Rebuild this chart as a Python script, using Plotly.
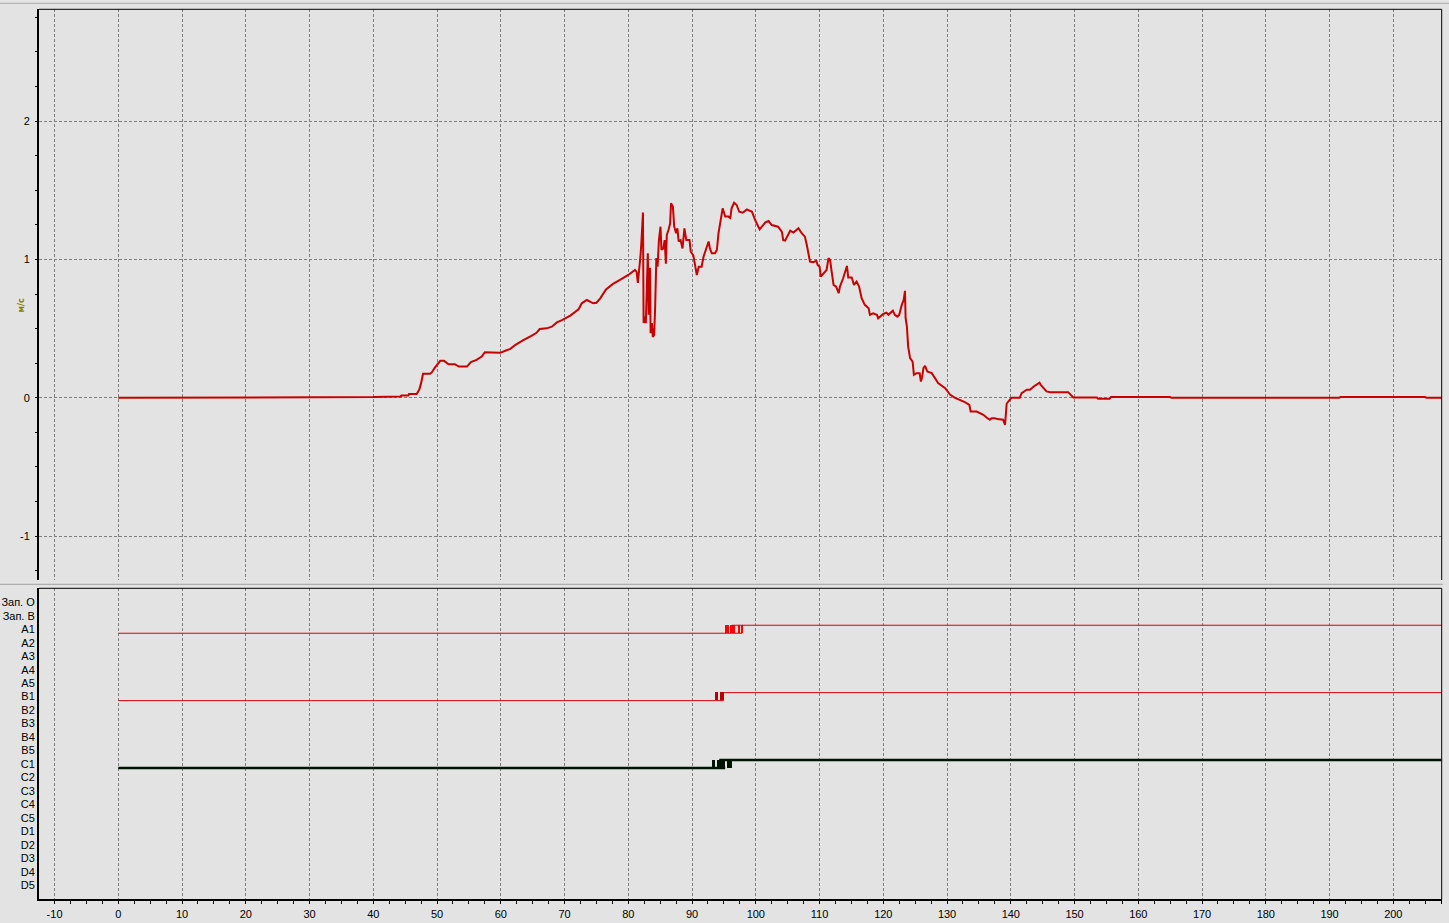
import plotly.graph_objects as go

# ---------------- data ----------------
t_vals = [0, 21.5, 21.8, 40, 44.3, 44.4, 45.5, 45.6, 46.8, 47.2, 47.5, 47.8, 48.9, 49.2, 49.6, 50.0,
          50.5, 51.1, 51.8, 52.8, 53.4, 54.7, 55.3, 56.2, 57.0, 57.5, 58.9, 59.1, 59.9, 60.8, 61.5,
          62.3, 63.0, 63.6, 64.8, 65.6, 66.1, 67.2, 68.0, 68.8, 69.6, 70.9, 72.2, 72.7, 73.5, 74.5,
          75.0, 75.6, 76.5, 77.6, 78.7, 80.0, 81.05,
          81.3, 81.5, 81.7, 81.9, 82.05, 82.3, 82.4, 82.5, 82.75, 82.9, 83.06, 83.2, 83.4, 83.5,
          83.7, 83.85, 84.05, 84.2, 84.4, 84.6, 84.8, 85.05, 85.2, 85.5, 85.7, 85.9, 86.04, 86.3,
          86.56, 86.7, 87.0, 87.2, 87.5, 87.7, 87.9, 88.2, 88.5, 88.8, 89.1, 89.6, 89.8, 90.2, 90.5,
          90.75, 91.05, 91.5, 91.8, 92.2, 92.6, 92.8, 93.1, 93.6, 93.9, 94.15, 94.5, 94.8, 95.2,
          95.7, 96.0, 96.2, 96.6, 97.0, 97.4, 97.95, 98.6, 99.4, 99.9, 100.6, 101.5, 102.0, 102.5,
          103.5, 104.1, 104.3, 104.6, 105.1, 105.4, 105.9, 106.7, 107.2, 107.7, 108.0, 108.3, 108.5,
          109.0, 109.5, 109.7, 110.0, 110.2, 110.6, 111.1, 111.4, 111.65, 111.9, 112.2, 112.6, 113.0,
          113.2, 113.7, 114.3, 114.5, 115.05, 115.4, 115.8, 116.2, 116.6, 117.1, 117.7, 117.9, 118.4,
          119.0, 119.2, 120.0, 120.5, 120.8, 121.5, 121.8, 122.2, 122.5, 122.9, 123.2, 123.4, 123.5,
          123.7, 123.9, 124.2, 124.6, 124.8, 125.2, 125.7, 125.9, 126.1, 126.3, 126.55, 126.9, 127.6,
          128.0, 128.6, 129.7, 130.5, 131.25, 132.0, 132.8, 133.5, 133.7, 134.65, 135.7, 136.2, 136.7,
          137.0, 137.5, 137.9, 138.8, 139.1, 139.25, 139.35, 139.6, 140.1, 141.4, 141.7, 142.5, 143.0,
          143.6, 144.1, 144.5, 144.7, 145.6, 146.2, 149.0, 149.3, 149.8, 153.5, 153.7, 155.5, 155.7,
          165.0, 165.2, 191.5, 191.7, 205.0, 205.2, 207.6]
speed_vals = [0.0, 0.0, 0.005, 0.005, 0.01, 0.017, 0.017, 0.027, 0.027, 0.058, 0.106, 0.173, 0.173,
              0.185, 0.214, 0.238, 0.267, 0.267, 0.243, 0.243, 0.226, 0.226, 0.258, 0.274, 0.298, 0.33,
              0.33, 0.325, 0.325, 0.342, 0.354, 0.383, 0.406, 0.419, 0.447, 0.47, 0.497, 0.502, 0.514,
              0.545, 0.562, 0.594, 0.64, 0.683, 0.707, 0.683, 0.687, 0.719, 0.784, 0.823, 0.852, 0.888,
              0.924,
              0.91, 0.83, 0.91, 1.02, 1.12, 1.34, 0.54, 0.587,
              0.54, 0.73, 1.045, 0.6, 0.94, 0.467, 0.54, 0.44, 0.455, 0.635, 1.01, 0.948, 1.14, 1.237,
              1.07, 1.08, 1.14, 0.97, 1.177, 1.213, 1.26, 1.406, 1.38, 1.237, 1.19, 1.225, 1.13, 1.14,
              1.08, 1.225, 1.14, 1.14, 1.056, 1.03, 0.948, 0.888, 0.948, 0.948, 1.02, 1.07, 1.13, 1.08,
              1.045, 1.045, 1.07, 1.19, 1.285, 1.37, 1.31, 1.31, 1.30, 1.37, 1.41, 1.394, 1.345, 1.338,
              1.362, 1.345, 1.285, 1.218, 1.268, 1.278, 1.249, 1.237, 1.2, 1.14, 1.136, 1.177, 1.208,
              1.194, 1.225, 1.19, 1.165, 1.105, 1.045, 0.985, 0.98, 0.99, 0.96, 0.948, 0.876, 0.895,
              0.924, 1.01, 0.996, 0.912, 0.816, 0.804, 0.756, 0.804, 0.864, 0.953, 0.87, 0.87, 0.816,
              0.84, 0.804, 0.72, 0.672, 0.648, 0.6, 0.611, 0.6, 0.575, 0.606, 0.616, 0.6, 0.63, 0.6,
              0.587, 0.6, 0.672, 0.708, 0.773, 0.575, 0.515, 0.37, 0.287, 0.262, 0.166, 0.178, 0.178,
              0.118, 0.154, 0.214, 0.231, 0.19, 0.178, 0.149, 0.106, 0.07, 0.022, 0.0, -0.014, -0.031,
              -0.051, -0.099, -0.099, -0.123, -0.142, -0.159, -0.147, -0.147, -0.154, -0.159, -0.195,
              -0.11, -0.043, -0.027, 0.0, 0.0, 0.034, 0.058, 0.058, 0.082, 0.099, 0.11, 0.094, 0.046,
              0.041, 0.041, 0.027, 0.002, 0.002, -0.007, -0.007, 0.005, 0.005, 0.0, 0.0, 0.005, 0.005,
              0.0, 0.0]

channel_labels = ["Зап. О", "Зап. В", "A1", "A2", "A3", "A4", "A5", "B1", "B2", "B3", "B4", "B5",
                  "C1", "C2", "C3", "C4", "C5", "D1", "D2", "D3", "D4", "D5"]

t_start = 0.0
t_end = 207.6

a1_low_until = 97.85
a1_high_from = 96.3
a1_bursts = [(95.2, 95.85), (95.97, 96.76), (97.22, 97.5), (97.7, 97.85)]

b1_low_until = 94.98
b1_high_from = 94.98
b1_bursts = [(93.6, 94.0), (94.4, 94.98)]

c1_low_until = 95.2
c1_high_from = 94.27
c1_bursts = [(93.15, 93.56), (93.97, 95.18), (95.54, 96.22)]

x_ticks = list(range(-10, 201, 10))
x_tick_text = [str(v) for v in x_ticks]
y_ticks = [-1, 0, 1, 2]
y_tick_text = [str(v) for v in y_ticks]

# ---------------- geometry (pixels) ----------------
W, H = 1449, 923
PX_L, PX_R = 39.0, 1441.7
TOP_T, TOP_B = 9.3, 580.0
BOT_T, BOT_B = 588.3, 899.3


def fy(py):
    return (H - py) / H


HALF = 0.297  # half distance between low/high level in channel units

fig = go.Figure()

fig.add_trace(go.Scatter(x=t_vals, y=speed_vals, mode="lines", xaxis="x", yaxis="y",
                         line=dict(color="#c80000", width=2), hoverinfo="skip"))


def add_channel(idx, low_until, high_from, bursts, line_color, burst_color, lw):
    low = idx + HALF
    high = idx - HALF
    fig.add_trace(go.Scatter(x=[t_start, low_until], y=[low, low], mode="lines",
                             xaxis="x2", yaxis="y2", line=dict(color=line_color, width=lw),
                             hoverinfo="skip"))
    fig.add_trace(go.Scatter(x=[high_from, t_end], y=[high, high], mode="lines",
                             xaxis="x2", yaxis="y2", line=dict(color=line_color, width=lw),
                             hoverinfo="skip"))
    fig.add_trace(go.Bar(x=[(s + e) / 2 for s, e in bursts], width=[e - s for s, e in bursts],
                         base=[high] * len(bursts), y=[low - high] * len(bursts),
                         xaxis="x2", yaxis="y2", marker=dict(color=burst_color, line=dict(width=0)),
                         hoverinfo="skip"))


add_channel(channel_labels.index("A1"), a1_low_until, a1_high_from, a1_bursts, "#dc0000", "#ff0000", 1)
add_channel(channel_labels.index("B1"), b1_low_until, b1_high_from, b1_bursts, "#dc0000", "#b40000", 1)
add_channel(channel_labels.index("C1"), c1_low_until, c1_high_from, c1_bursts, "#001400", "#001400", 2.5)

px_per_unit = 6.375
x0_px = 118.3
x_range = [(PX_L - x0_px) / px_per_unit, (PX_R - x0_px) / px_per_unit]

py_per_unit = 138.33
y0_px = 397.8
y_range = [(y0_px - TOP_B) / py_per_unit, (y0_px - TOP_T) / py_per_unit]

ch0_px = 602.3
ch_step = 13.476
y2_range = [(BOT_B - ch0_px) / ch_step, (BOT_T - ch0_px) / ch_step]

GRID = dict(showgrid=True, gridcolor="#7f7f7f", gridwidth=1, griddash="3px,2px")
FONT = dict(family="Liberation Sans, Arial, sans-serif", size=11, color="#000000")

fig.update_layout(
    width=W, height=H, autosize=False,
    margin=dict(l=0, r=0, t=0, b=0),
    paper_bgcolor="#e3e3e3", plot_bgcolor="#e3e3e3",
    showlegend=False, barmode="overlay", bargap=0,
    font=FONT,
    xaxis=dict(domain=[PX_L / W, PX_R / W], range=x_range, anchor="y",
               tickmode="array", tickvals=x_ticks, ticktext=x_tick_text,
               showticklabels=False, ticks="", zeroline=False, showline=False, **GRID),
    yaxis=dict(domain=[fy(TOP_B), fy(TOP_T)], range=y_range, anchor="x",
               tickmode="array", tickvals=y_ticks, ticktext=y_tick_text,
               ticks="outside", ticklen=2, tickcolor="#000000", tickfont=FONT,
               showline=True, linewidth=2, linecolor="#000000", zeroline=False,
               ticklabelstandoff=3,
               minor=dict(dtick=0.25, ticks="outside", ticklen=2, tickcolor="#000000", showgrid=False),
               **GRID),
    xaxis2=dict(domain=[PX_L / W, PX_R / W], range=x_range, anchor="y2",
                tickmode="array", tickvals=x_ticks, ticktext=x_tick_text,
                ticks="outside", ticklen=3, tickcolor="#000000", tickfont=FONT,
                showline=True, linewidth=2, linecolor="#000000", zeroline=False,
                minor=dict(dtick=2.5, ticks="outside", ticklen=3, tickcolor="#000000", showgrid=False),
                **GRID),
    yaxis2=dict(domain=[fy(BOT_B), fy(BOT_T)], range=y2_range, anchor="x2",
                tickmode="array", tickvals=list(range(len(channel_labels))), ticktext=channel_labels,
                ticks="", tickfont=FONT, showgrid=False, zeroline=False,
                showline=True, linewidth=2, linecolor="#000000", ticklabelstandoff=0),
)

shapes = [
    # top panel borders (top, right)
    dict(type="line", xref="paper", yref="paper", x0=PX_L / W, x1=PX_R / W, y0=fy(TOP_T), y1=fy(TOP_T),
         line=dict(color="#000000", width=1)),
    dict(type="line", xref="paper", yref="paper", x0=PX_R / W, x1=PX_R / W, y0=fy(TOP_B), y1=fy(TOP_T),
         line=dict(color="#000000", width=1)),
    # bottom panel borders (top, right)
    dict(type="line", xref="paper", yref="paper", x0=PX_L / W, x1=PX_R / W, y0=fy(BOT_T), y1=fy(BOT_T),
         line=dict(color="#000000", width=1)),
    dict(type="line", xref="paper", yref="paper", x0=PX_R / W, x1=PX_R / W, y0=fy(BOT_B), y1=fy(BOT_T),
         line=dict(color="#000000", width=1)),
    # separator between panels
    dict(type="line", xref="paper", yref="paper", x0=0, x1=1443 / W, y0=fy(584.3), y1=fy(584.3),
         line=dict(color="#a0a0a0", width=1)),
    # top strip
    dict(type="line", xref="paper", yref="paper", x0=0, x1=1, y0=fy(3.3), y1=fy(3.3),
         line=dict(color="#a8a8a8", width=1)),
]
fig.update_layout(shapes=shapes)

fig.add_annotation(xref="paper", yref="paper", x=14 / W, y=fy(297), text="<b>м/с</b>",
                   textangle=-90, showarrow=False,
                   font=dict(family="DejaVu Sans, sans-serif", size=8, color="#808000"))

fig.write_html("out.html", config={"displayModeBar": False},
               post_script="document.body.style.margin='0';document.body.style.padding='0';"
                           "document.body.style.overflow='hidden';")
